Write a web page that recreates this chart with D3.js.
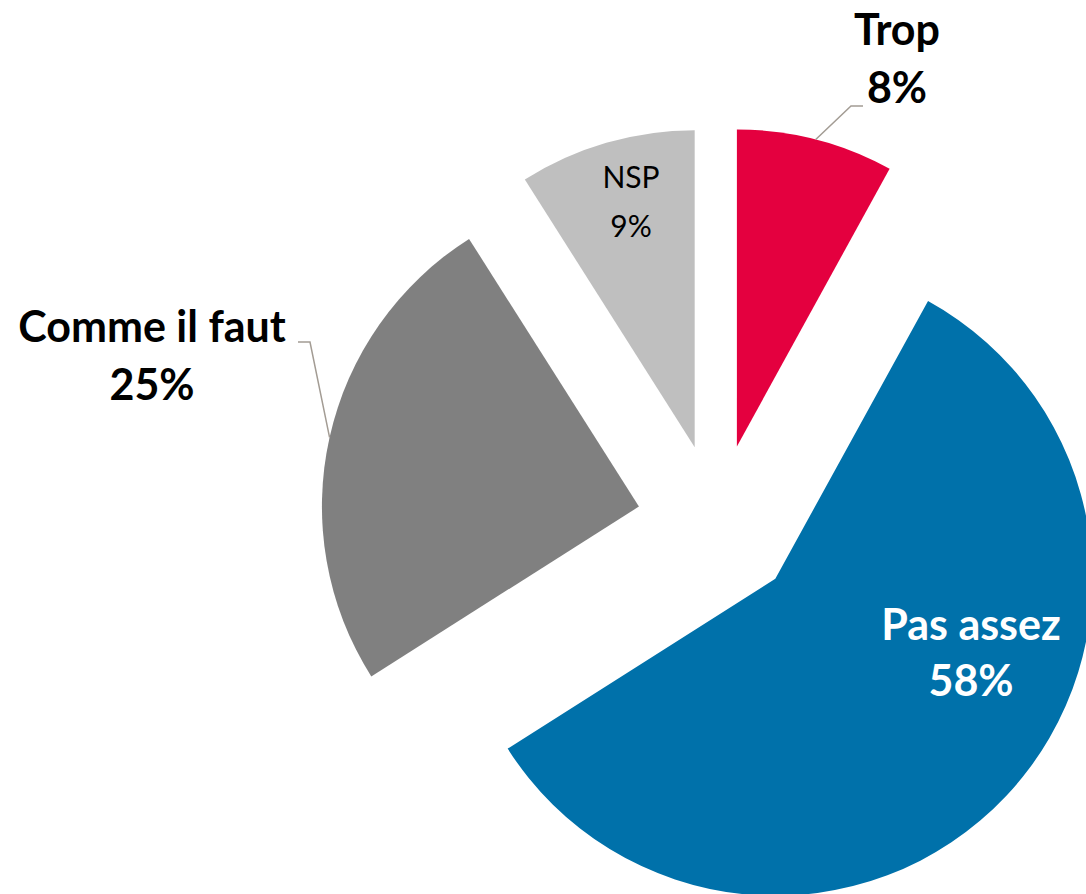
<!DOCTYPE html>
<html>
<head>
<meta charset="utf-8">
<script src="https://cdn.jsdelivr.net/npm/d3@7"></script>
<style>
  html, body { margin: 0; padding: 0; background: #fff; }
  svg { display: block; }
</style>
</head>
<body>
<div id="chart"></div>
<script>
// Data
const categories = ['Trop', 'Pas assez', 'Comme il faut', 'NSP'];
const values = [8, 58, 25, 9];
const colors = ['#E4003F', '#0071AA', '#808080', '#BFBFBF'];

const W = 1086, H = 894;
const CENTER = { x: 717, y: 524 };
const RADIUS = 317;
const EXPLODE = 80;
const FONT = 'Lato, "Open Sans", sans-serif';

// label layout (outside labels get a leader line back to the slice)
const LABELS = {
  'Trop':          { x: 897, y: 45,  size: 43, weight: 700, fill: '#000', gap: 58, elbow: [851, 106], end: [863, 106] },
  'Pas assez':     { x: 971, y: 640, size: 43, weight: 700, fill: '#fff', gap: 56 },
  'Comme il faut': { x: 152, y: 342, size: 43, weight: 700, fill: '#000', gap: 58, elbow: [310, 342], end: [298, 342] },
  'NSP':           { x: 631, y: 188, size: 30, weight: 400, fill: '#000', gap: 49 },
};

const svg = d3.select('#chart').append('svg')
  .attr('width', W)
  .attr('height', H);

const pie = d3.pie().sort(null).value(d => d.value);
const arcs = pie(categories.map((c, i) => ({ name: c, value: values[i], color: colors[i] })));

const arc = d3.arc().innerRadius(0).outerRadius(RADIUS);

// offset each slice along its mid angle
const offset = a => {
  const mid = (a.startAngle + a.endAngle) / 2;
  return [CENTER.x + EXPLODE * Math.sin(mid), CENTER.y - EXPLODE * Math.cos(mid)];
};

const slices = svg.append('g').selectAll('g.slice')
  .data(arcs)
  .join('g')
  .attr('class', 'slice')
  .attr('transform', d => `translate(${offset(d)})`);

slices.append('path')
  .attr('d', arc)
  .attr('fill', d => d.data.color);

// leader lines
arcs.forEach(a => {
  const lab = LABELS[a.data.name];
  if (!lab.elbow) return;
  const [ox, oy] = offset(a);
  const mid = (a.startAngle + a.endAngle) / 2;
  const start = [ox + RADIUS * Math.sin(mid), oy - RADIUS * Math.cos(mid)];
  svg.append('path')
    .attr('d', d3.line()([start, lab.elbow, lab.end]))
    .attr('fill', 'none')
    .attr('stroke', '#A39C94')
    .attr('stroke-width', 1.5);
});

// labels
arcs.forEach(a => {
  const lab = LABELS[a.data.name];
  const t = svg.append('text')
    .attr('text-anchor', 'middle')
    .attr('font-family', FONT)
    .attr('font-size', lab.size)
    .attr('font-weight', lab.weight)
    .attr('fill', lab.fill);
  t.append('tspan').attr('x', lab.x).attr('y', lab.y).text(a.data.name);
  t.append('tspan').attr('x', lab.x).attr('y', lab.y + lab.gap).text(`${a.data.value}%`);
});
</script>
</body>
</html>
